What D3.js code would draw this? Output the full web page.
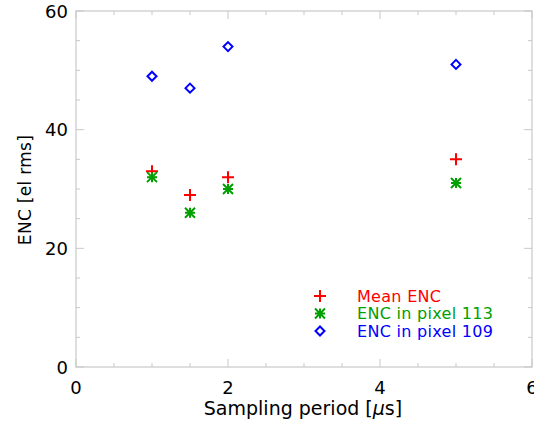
<!DOCTYPE html>
<html><head><meta charset="utf-8">
<script src="https://cdn.jsdelivr.net/npm/d3@7"></script>
<style>body{margin:0;background:#fff}svg{display:block}text{font-family:"DejaVu Sans",sans-serif}</style>
</head><body>
<svg id="c" width="534" height="423"></svg>
<script>
const periods = [1, 1.5, 2, 5];
const meanENC = [33, 29, 32, 35];
const enc113 = [32, 26, 30, 31];
const enc109 = [49, 47, 54, 51];
const xTicks = [0, 2, 4, 6];
const yTicks = [0, 20, 40, 60];
const legendLabels = ["Mean ENC", "ENC in pixel 113", "ENC in pixel 109"];
const colors = ["#ff0000", "#00a000", "#0000ff"];

const svg = d3.select("#c");
const L = 76, R = 532, T = 11, B = 367;
const x = d3.scaleLinear().domain([0, 6]).range([L, R]);
const y = d3.scaleLinear().domain([0, 60]).range([B, T]);
const axisCol = "#c8c8c8";

svg.append("rect").attr("x", L).attr("y", T).attr("width", R - L).attr("height", B - T)
  .attr("fill", "none").attr("stroke", axisCol).attr("stroke-width", 1.2);

const g = svg.append("g");
d3.range(0, 6.01, 0.5).forEach(v => {
  const major = Math.abs(v % 2) < 1e-9;
  const len = major ? 8 : 4;
  g.append("line").attr("x1", x(v)).attr("x2", x(v)).attr("y1", B).attr("y2", B - len).attr("stroke", axisCol);
  g.append("line").attr("x1", x(v)).attr("x2", x(v)).attr("y1", T).attr("y2", T + len).attr("stroke", axisCol);
});
d3.range(0, 60.01, 5).forEach(v => {
  const major = Math.abs(v % 20) < 1e-9;
  const len = major ? 8 : 4;
  g.append("line").attr("y1", y(v)).attr("y2", y(v)).attr("x1", L).attr("x2", L + len).attr("stroke", axisCol);
  g.append("line").attr("y1", y(v)).attr("y2", y(v)).attr("x1", R).attr("x2", R - len).attr("stroke", axisCol);
});
xTicks.forEach(v => {
  g.append("text").attr("x", x(v)).attr("y", B + 27).attr("text-anchor", "middle")
    .attr("font-size", 18).text(v);
});
yTicks.forEach(v => {
  g.append("text").attr("x", L - 8).attr("y", y(v) + 6.5).attr("text-anchor", "end")
    .attr("font-size", 18).text(v);
});
svg.append("text").attr("x", (L + R) / 2 - 1).attr("y", 415).attr("text-anchor", "middle")
  .attr("font-size", 19)
  .html('Sampling period [<tspan font-style="italic">μ</tspan>s]');
svg.append("text").attr("transform", "translate(31,190) rotate(-90)").attr("text-anchor", "middle")
  .attr("font-size", 17).attr("letter-spacing", 0.3).text("ENC [el rms]");

function plus(sel, cx, cy, c) {
  sel.append("path").attr("d", `M${cx-6},${cy}H${cx+6}M${cx},${cy-6}V${cy+6}`)
    .attr("stroke", c).attr("stroke-width", 2).attr("fill", "none");
}
function aster(sel, cx, cy, c) {
  const r = 5;
  sel.append("path").attr("d", `M${cx-r},${cy}H${cx+r}M${cx},${cy-r}V${cy+r}M${cx-r},${cy-r}L${cx+r},${cy+r}M${cx-r},${cy+r}L${cx+r},${cy-r}`)
    .attr("stroke", c).attr("stroke-width", 2).attr("fill", "none");
}
function diamond(sel, cx, cy, c) {
  const r = 4.5;
  sel.append("path").attr("d", `M${cx},${cy-r}L${cx+r},${cy}L${cx},${cy+r}L${cx-r},${cy}Z`)
    .attr("stroke", c).attr("stroke-width", 2).attr("fill", "none");
}
const marks = svg.append("g");
periods.forEach((p, i) => {
  plus(marks, x(p), y(meanENC[i]), colors[0]);
  aster(marks, x(p), y(enc113[i]), colors[1]);
  diamond(marks, x(p), y(enc109[i]), colors[2]);
});

const leg = svg.append("g");
const fns = [plus, aster, diamond];
legendLabels.forEach((t, i) => {
  const yy = 296 + i * 17.5;
  fns[i](leg, 320, yy, colors[i]);
  leg.append("text").attr("x", 357).attr("y", yy + 5.5).attr("font-size", 16).attr("letter-spacing", 0.3)
    .attr("fill", colors[i]).text(t);
});
</script>
</body></html>
